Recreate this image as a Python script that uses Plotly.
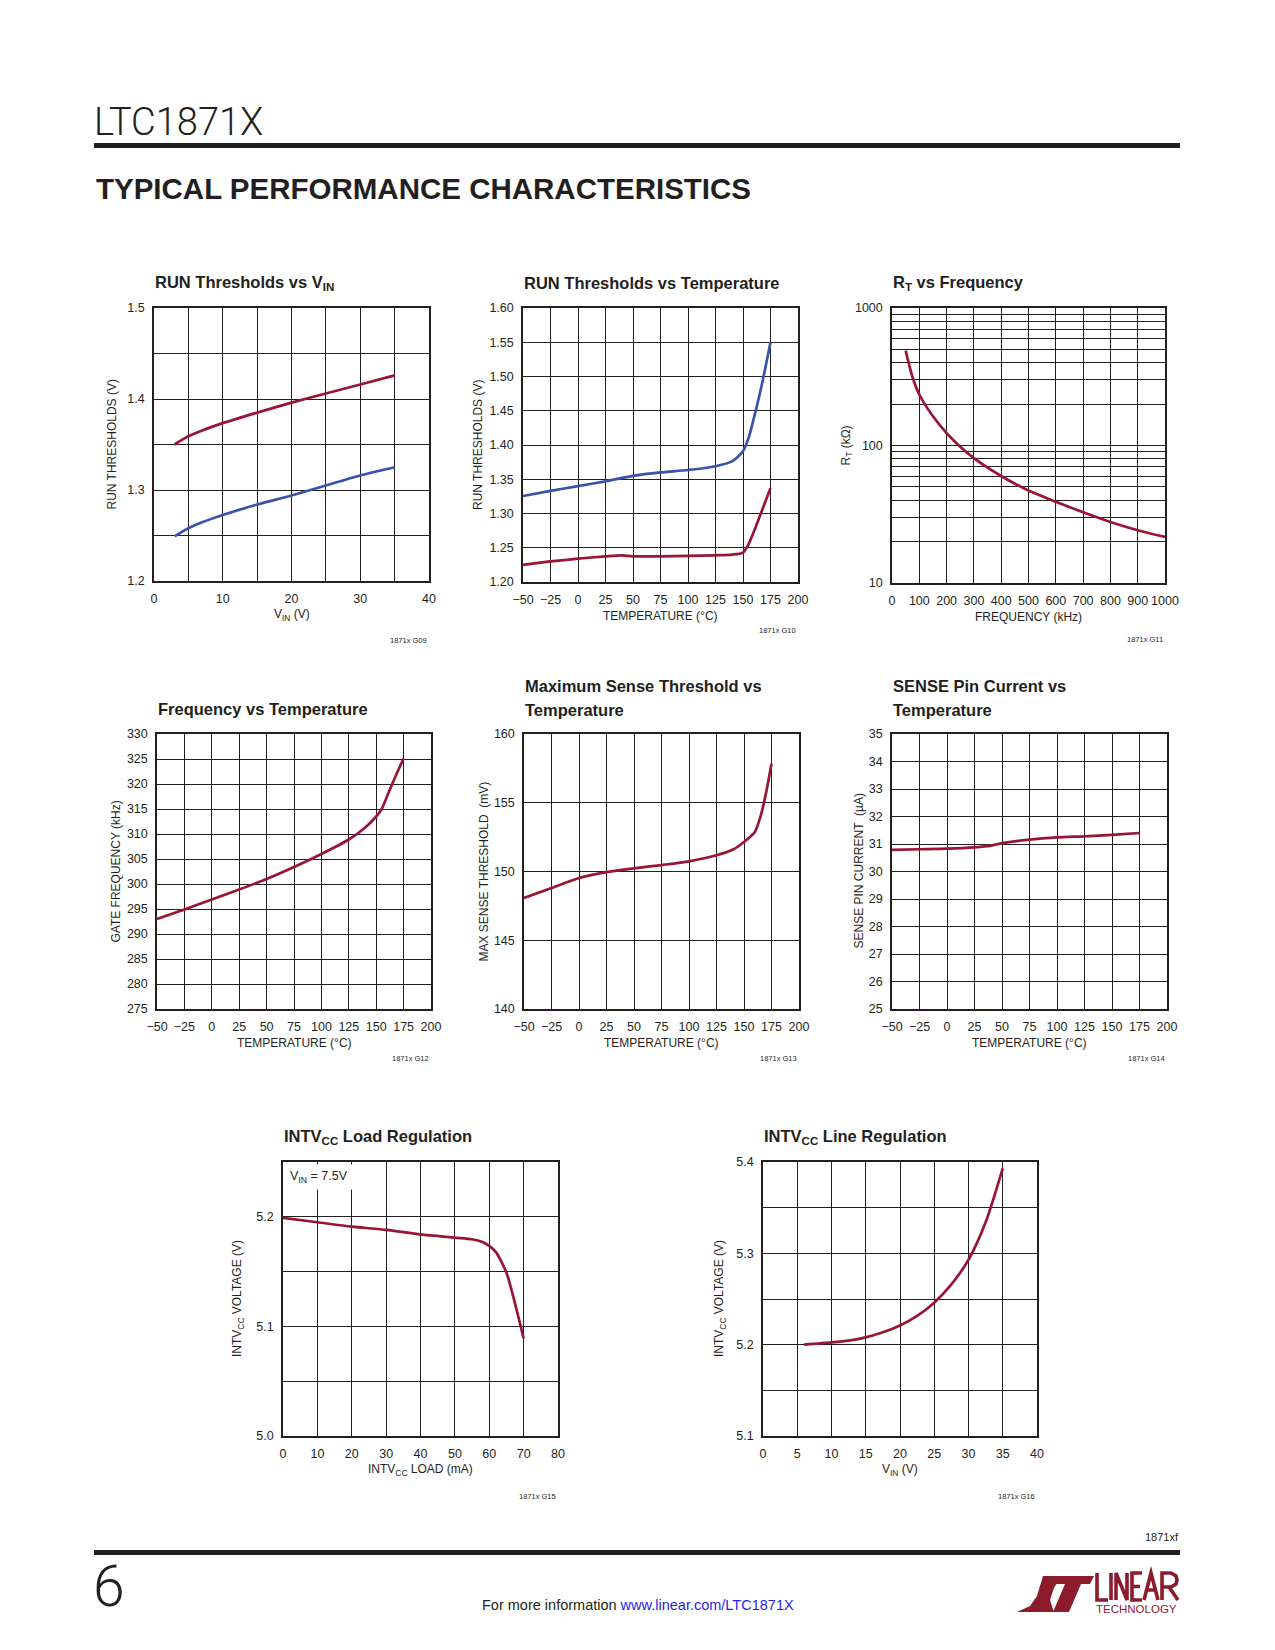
import plotly.graph_objects as go

W, H = 1275, 1650
OFF = 8  # the page body adds an 8 px margin around the figure
FONT = "Liberation Sans, Arial, Helvetica, sans-serif"
THIN = "Roboto, Liberation Sans, sans-serif"
INK = "#231f20"
RED = "#9a1535"
BLUE = "#3b52aa"
LOGO_RED = "#8c1c2c"

# ---------------- data ----------------
# G09 RUN thresholds vs VIN
g09_vin = [3, 4, 5, 7, 10, 15, 20, 25, 30, 35]
g09_on = [1.350, 1.3548, 1.359, 1.3655, 1.3735, 1.385, 1.396, 1.406, 1.416, 1.426]
g09_off = [1.249, 1.2538, 1.258, 1.2645, 1.2725, 1.284, 1.294, 1.305, 1.316, 1.325]

# G10 RUN thresholds vs temperature
g10_temp_on = [-50, -25, 0, 25, 50, 75, 100, 125, 140, 150, 155, 160, 165, 170, 175]
g10_on = [1.3255, 1.333, 1.340, 1.347, 1.355, 1.360, 1.3635, 1.369, 1.376, 1.391,
          1.410, 1.440, 1.473, 1.510, 1.550]
g10_temp_off = [-50, -25, 0, 25, 40, 50, 75, 100, 125, 140, 150, 155, 160, 165, 170, 175]
g10_off = [1.225, 1.230, 1.234, 1.2375, 1.239, 1.2375, 1.2375, 1.238, 1.239, 1.240,
           1.243, 1.255, 1.274, 1.295, 1.316, 1.337]

# G11 RT vs frequency
g11_freq = [50, 75, 100, 150, 200, 250, 300, 400, 500, 600, 700, 800, 900, 1000]
g11_rt = [490, 315, 235, 163, 123, 98, 81, 60, 47, 39, 32.7, 27.8, 24.2, 21.6]

# G12 frequency vs temperature
g12_temp = [-50, -25, 0, 25, 50, 75, 100, 125, 140, 150, 155, 160, 165, 170, 175]
g12_freq = [293.0, 294.9, 296.9, 298.9, 301.0, 303.4, 306.0, 308.9, 311.3, 313.5,
            315.0, 317.6, 320.2, 322.7, 325.1]

# G13 max sense threshold vs temperature
g13_temp = [-50, -25, 0, 25, 50, 75, 100, 125, 140, 150, 160, 165, 170, 175]
g13_mv = [148.07, 148.8, 149.53, 149.96, 150.23, 150.47, 150.74, 151.18, 151.6,
          152.15, 152.9, 154.0, 155.7, 157.84]

# G14 SENSE pin current vs temperature
g14_temp = [-50, -25, 0, 25, 40, 50, 75, 100, 125, 150, 175]
g14_ua = [30.79, 30.81, 30.83, 30.88, 30.94, 31.03, 31.16, 31.24, 31.28, 31.33, 31.40]

# G15 INTVCC load regulation
g15_load = [0, 10, 20, 30, 40, 50, 55, 58, 60, 62, 65, 67, 69, 70]
g15_v = [5.199, 5.195, 5.191, 5.188, 5.184, 5.181, 5.1795, 5.177, 5.1735, 5.1675,
         5.149, 5.127, 5.102, 5.089]

# G16 INTVCC line regulation
g16_vin = [6, 10, 12.5, 15, 17.5, 20, 22.5, 25, 27.5, 30, 32.5, 35]
g16_v = [5.200, 5.2025, 5.2045, 5.208, 5.2135, 5.221, 5.2315, 5.246, 5.266, 5.293,
         5.334, 5.393]

# ---------------- tick labels ----------------
temp_ticks = [-50, -25, 0, 25, 50, 75, 100, 125, 150, 175, 200]
temp_labels = ["\u221250", "\u221225", "0", "25", "50", "75", "100", "125", "150", "175", "200"]

g09_xt = [0, 5, 10, 15, 20, 25, 30, 35, 40]
g09_xl = ["0", "", "10", "", "20", "", "30", "", "40"]
g09_yt = [1.20, 1.25, 1.30, 1.35, 1.40, 1.45, 1.50]
g09_yl = ["1.2", "", "1.3", "", "1.4", "", "1.5"]

g10_yt = [1.20, 1.25, 1.30, 1.35, 1.40, 1.45, 1.50, 1.55, 1.60]
g10_yl = ["1.20", "1.25", "1.30", "1.35", "1.40", "1.45", "1.50", "1.55", "1.60"]

g11_xt = [0, 100, 200, 300, 400, 500, 600, 700, 800, 900, 1000]
g11_xl = ["0", "100", "200", "300", "400", "500", "600", "700", "800", "900", "1000"]
g11_yt = [10, 20, 30, 40, 50, 60, 70, 80, 90, 100, 200, 300, 400, 500, 600, 700, 800, 900, 1000]
g11_yl = ["10", "", "", "", "", "", "", "", "", "100", "", "", "", "", "", "", "", "", "1000"]

g12_yt = [275, 280, 285, 290, 295, 300, 305, 310, 315, 320, 325, 330]
g12_yl = ["275", "280", "285", "290", "295", "300", "305", "310", "315", "320", "325", "330"]

g13_yt = [140, 145, 150, 155, 160]
g13_yl = ["140", "145", "150", "155", "160"]

g14_yt = [25, 26, 27, 28, 29, 30, 31, 32, 33, 34, 35]
g14_yl = ["25", "26", "27", "28", "29", "30", "31", "32", "33", "34", "35"]

g15_xt = [0, 10, 20, 30, 40, 50, 60, 70, 80]
g15_xl = ["0", "10", "20", "30", "40", "50", "60", "70", "80"]
g15_yt = [5.00, 5.05, 5.10, 5.15, 5.20, 5.25]
g15_yl = ["5.0", "", "5.1", "", "5.2", ""]

g16_xt = [0, 5, 10, 15, 20, 25, 30, 35, 40]
g16_xl = ["0", "5", "10", "15", "20", "25", "30", "35", "40"]
g16_yt = [5.10, 5.15, 5.20, 5.25, 5.30, 5.35, 5.40]
g16_yl = ["5.1", "", "5.2", "", "5.3", "", "5.4"]


def px(x):
    return (x - OFF) / W


def py(y):
    return 1 - (y - OFF) / H


charts = [
    dict(box=(154, 308, 429, 581), xr=[0, 40], yr=[1.2, 1.5], xt=g09_xt, xl=g09_xl,
         yt=g09_yt, yl=g09_yl, title=["RUN Thresholds vs V<sub>IN</sub>"],
         xtitle="V<sub>IN</sub> (V)", ytitle="RUN THRESHOLDS (V)", ytx=112, code="1871x G09",
         codey=641,
         series=[(g09_vin, g09_on, RED), (g09_vin, g09_off, BLUE)]),
    dict(box=(523, 308, 798, 582), xr=[-50, 200], yr=[1.2, 1.6], xt=temp_ticks, xl=temp_labels,
         yt=g10_yt, yl=g10_yl, title=["RUN Thresholds vs Temperature"],
         xtitle="TEMPERATURE (\u00b0C)", ytitle="RUN THRESHOLDS (V)", ytx=478, code="1871x G10",
         codey=630,
         series=[(g10_temp_on, g10_on, BLUE), (g10_temp_off, g10_off, RED)]),
    dict(box=(892, 308, 1165, 583), xr=[0, 1000], yr=[1, 3], log=True, xt=g11_xt, xl=g11_xl,
         yt=g11_yt, yl=g11_yl, title=["R<sub>T</sub> vs Frequency"],
         xtitle="FREQUENCY (kHz)", ytitle="R<sub>T</sub> (k\u03a9)", ytx=846, code="1871x G11",
         codey=639,
         series=[(g11_freq, g11_rt, RED)]),
    dict(box=(157, 734, 431, 1009), xr=[-50, 200], yr=[275, 330], xt=temp_ticks, xl=temp_labels,
         yt=g12_yt, yl=g12_yl, title=["Frequency vs Temperature"],
         xtitle="TEMPERATURE (\u00b0C)", ytitle="GATE FREQUENCY (kHz)", ytx=115, code="1871x G12",
         codey=1058,
         series=[(g12_temp, g12_freq, RED)]),
    dict(box=(524, 734, 799, 1009), xr=[-50, 200], yr=[140, 160], xt=temp_ticks, xl=temp_labels,
         yt=g13_yt, yl=g13_yl, title=["Maximum Sense Threshold vs", "Temperature"],
         xtitle="TEMPERATURE (\u00b0C)", ytitle="MAX SENSE THRESHOLD  (mV)", ytx=483,
         code="1871x G13", codey=1058,
         series=[(g13_temp, g13_mv, RED)]),
    dict(box=(892, 734, 1167, 1009), xr=[-50, 200], yr=[25, 35], xt=temp_ticks, xl=temp_labels,
         yt=g14_yt, yl=g14_yl, title=["SENSE Pin Current vs", "Temperature"],
         xtitle="TEMPERATURE (\u00b0C)", ytitle="SENSE PIN CURRENT  (\u00b5A)", ytx=858,
         code="1871x G14", codey=1058,
         series=[(g14_temp, g14_ua, RED)]),
    dict(box=(283, 1162, 558, 1436), xr=[0, 80], yr=[5.0, 5.25], xt=g15_xt, xl=g15_xl,
         yt=g15_yt, yl=g15_yl, title=["INTV<sub>CC</sub> Load Regulation"],
         xtitle="INTV<sub>CC</sub> LOAD (mA)", ytitle="INTV<sub>CC</sub> VOLTAGE (V)", ytx=238,
         code="1871x G15", codey=1496,
         series=[(g15_load, g15_v, RED)]),
    dict(box=(763, 1162, 1037, 1436), xr=[0, 40], yr=[5.1, 5.4], xt=g16_xt, xl=g16_xl,
         yt=g16_yt, yl=g16_yl, title=["INTV<sub>CC</sub> Line Regulation"],
         xtitle="V<sub>IN</sub> (V)", ytitle="INTV<sub>CC</sub> VOLTAGE (V)", ytx=720,
         code="1871x G16", codey=1496,
         series=[(g16_vin, g16_v, RED)]),
]

fig = go.Figure()
annotations = []
shapes = []
layout = {}

for i, c in enumerate(charts, start=1):
    sfx = "" if i == 1 else str(i)
    x0, y0, x1, y1 = c["box"]
    axis_common = dict(
        showgrid=True, gridcolor=INK, gridwidth=1, zeroline=False,
        showline=True, mirror=True, linecolor=INK, linewidth=1.5,
        ticks="", tickfont=dict(family=FONT, size=12.5, color=INK), tickangle=0,
        ticklabelstandoff=5, fixedrange=True, automargin=False,
    )
    layout["xaxis" + sfx] = dict(
        axis_common, domain=[px(x0), px(x1)], range=c["xr"], anchor="y" + sfx,
        tickmode="array", tickvals=c["xt"], ticktext=c["xl"],
    )
    ya = dict(
        axis_common, domain=[py(y1), py(y0)], range=c["yr"], anchor="x" + sfx,
        tickmode="array", tickvals=c["yt"], ticktext=c["yl"],
    )
    if c.get("log"):
        ya["type"] = "log"
    layout["yaxis" + sfx] = ya

    for xs, ys, col in c["series"]:
        fig.add_trace(go.Scatter(
            x=xs, y=ys, mode="lines", xaxis="x" + sfx, yaxis="y" + sfx,
            line=dict(color=col, width=2.7, shape="spline", smoothing=0.7),
            showlegend=False, hoverinfo="skip",
        ))

    # chart title (one or two lines)
    if len(c["title"]) == 1:
        tys = [y0 - 25]
    else:
        tys = [y0 - 48, y0 - 24]
    for line, ty in zip(c["title"], tys):
        annotations.append(dict(
            text="<b>" + line + "</b>", x=px(x0 - 1), y=py(ty), xref="paper", yref="paper",
            xanchor="left", yanchor="middle", showarrow=False,
            font=dict(family=FONT, size=16.5, color=INK)))
    # x axis title
    annotations.append(dict(
        text=c["xtitle"], x=px((x0 + x1) / 2), y=py(y1 + 34), xref="paper", yref="paper",
        xanchor="center", yanchor="middle", showarrow=False,
        font=dict(family=FONT, size=12, color=INK)))
    # y axis title
    annotations.append(dict(
        text=c["ytitle"], x=px(c["ytx"]), y=py((y0 + y1) / 2), xref="paper", yref="paper",
        xanchor="center", yanchor="middle", showarrow=False, textangle=-90,
        font=dict(family=FONT, size=12, color=INK)))
    # figure code
    annotations.append(dict(
        text=c["code"], x=px(x1), y=py(c["codey"]), xref="paper", yref="paper",
        xanchor="right", yanchor="middle", showarrow=False,
        font=dict(family=FONT, size=7.5, color=INK)))

# condition box in load regulation chart
annotations.append(dict(
    text="V<sub>IN</sub> = 7.5V", x=px(285), y=py(1163.5), xref="paper", yref="paper",
    xanchor="left", yanchor="top", showarrow=False, bgcolor="white", borderpad=4,
    font=dict(family=FONT, size=12.5, color=INK)))

# ---------------- page furniture ----------------
annotations += [
    dict(text="LTC1871X", x=px(92), y=py(122), xref="paper", yref="paper", xanchor="left",
         yanchor="middle", showarrow=False,
         font=dict(family=THIN, size=38, color=INK, weight=300)),
    dict(text="<b>TYPICAL PERFORMANCE CHARACTERISTICS</b>", x=px(94), y=py(188), xref="paper",
         yref="paper", xanchor="left", yanchor="middle", showarrow=False,
         font=dict(family=FONT, size=29.5, color=INK)),
    dict(text="1871xf", x=px(1181), y=py(1537), xref="paper", yref="paper", xanchor="right",
         yanchor="middle", showarrow=False, font=dict(family=FONT, size=11, color=INK)),
    dict(text="6", x=px(91), y=py(1586), xref="paper", yref="paper", xanchor="left",
         yanchor="middle", showarrow=False,
         font=dict(family=THIN, size=57, color=INK, weight=300)),
    dict(text="For more information <span style='color:#1f1fe6'>www.linear.com/LTC1871X</span>",
         x=px(637.5), y=py(1605), xref="paper", yref="paper", xanchor="center",
         yanchor="middle", showarrow=False, font=dict(family=FONT, size=14.5, color=INK)),
    dict(text="TECHNOLOGY", x=px(1094), y=py(1609), xref="paper", yref="paper",
         xanchor="left", yanchor="middle", showarrow=False,
         font=dict(family=FONT, size=11.5, color=LOGO_RED)),
]


def rect(xa, ya, xb, yb, col):
    return dict(type="rect", xref="paper", yref="paper", x0=px(xa), x1=px(xb),
                y0=py(yb), y1=py(ya), fillcolor=col, line=dict(width=0), layer="above")


def path(pts, col):
    d = "M " + " L ".join(f"{px(a):.5f},{py(b):.5f}" for a, b in pts) + " Z"
    return dict(type="path", xref="paper", yref="paper", path=d, fillcolor=col,
                line=dict(width=0), layer="above")


def strokes(segments, col, width):
    parts = []
    for seg in segments:
        parts.append("M " + " L ".join(f"{px(a):.5f},{py(b):.5f}" for a, b in seg))
    return dict(type="path", xref="paper", yref="paper", path=" ".join(parts),
                fillcolor="rgba(0,0,0,0)", line=dict(width=width, color=col), layer="above")


# tall condensed "LINEAR" word mark drawn as strokes
linear_word = [
    [(1097, 1573), (1097, 1600), (1108, 1600)],                       # L
    [(1111, 1573), (1111, 1600)],                                     # I
    [(1116, 1600), (1116, 1573), (1127, 1600), (1127, 1573)],         # N
    [(1142, 1573), (1132, 1573), (1132, 1600), (1142, 1600)],         # E
    [(1132, 1586.5), (1140, 1586.5)],
    [(1144, 1600), (1151, 1573), (1158, 1600)],                       # A
    [(1146.5, 1590), (1155.5, 1590)],
    [(1162, 1600), (1162, 1573), (1171, 1573), (1176, 1576), (1177, 1580),
     (1176, 1584), (1171, 1587), (1162, 1587)],                       # R
    [(1169, 1587), (1178, 1600)],
]

shapes += [
    rect(94, 143, 1180, 148, INK),
    rect(94, 1550, 1180, 1555, INK),
    # LT swoosh logo (approximate)
    path([(1043, 1576), (1061, 1576), (1054, 1588), (1050, 1600), (1054, 1612),
          (1017, 1612), (1030, 1606), (1037, 1596)], LOGO_RED),
    path([(1056, 1576), (1094, 1576), (1090, 1584), (1081, 1584), (1069, 1612),
          (1053, 1612), (1065, 1584), (1053, 1584)], LOGO_RED),
    strokes(linear_word, LOGO_RED, 3.6),
]

fig.update_layout(
    width=W, height=H, margin=dict(l=0, r=0, t=0, b=0, autoexpand=False),
    paper_bgcolor="white", plot_bgcolor="white",
    annotations=annotations, shapes=shapes, showlegend=False,
    **layout,
)

fig.write_html("out.html")
